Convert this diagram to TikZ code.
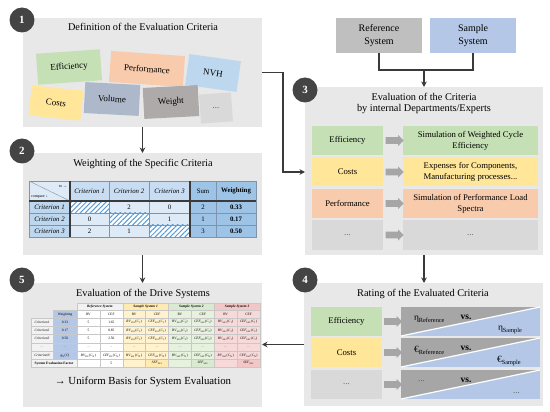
\documentclass[tikz,border=0pt]{standalone}
\usepackage{fontspec}
\setmainfont{Liberation Serif}
\usetikzlibrary{shapes.arrows,patterns,patterns.meta,arrows.meta,calc}
\definecolor{panelgray}{HTML}{E8E8E8}
\definecolor{badgegray}{HTML}{444444}
\definecolor{cgreen}{HTML}{C5E0B4}
\definecolor{csalmon}{HTML}{F8CBAD}
\definecolor{cyellow}{HTML}{FFE699}
\definecolor{cblue}{HTML}{B4C7E7}
\definecolor{cnvh}{HTML}{BDD7EE}
\definecolor{cvol}{HTML}{ADB9CA}
\definecolor{cweight}{HTML}{AEAAAA}
\definecolor{cdots}{HTML}{D9D9D9}
\definecolor{cref}{HTML}{BFBFBF}
\definecolor{linegray}{HTML}{3A3A3A}
\definecolor{arrowgray}{HTML}{A6A6A6}
\definecolor{t2corner}{HTML}{DEEBF7}
\definecolor{t2head}{HTML}{C9DDF2}
\definecolor{t2row}{HTML}{BDD7EE}
\definecolor{t2body}{HTML}{DEEBF7}
\definecolor{t2sum}{HTML}{9DC3E6}
\definecolor{t2grid}{HTML}{7F93AA}
\definecolor{hatch}{HTML}{5B9BD5}
\definecolor{t5grid}{HTML}{C8C8C8}
\definecolor{h0}{HTML}{F2F2F2}
\definecolor{b0}{HTML}{FFFFFF}
\definecolor{h1}{HTML}{FFEAB0}
\definecolor{b1}{HTML}{FFF2CC}
\definecolor{h2}{HTML}{D9EAD0}
\definecolor{b2}{HTML}{E6F1DE}
\definecolor{h3}{HTML}{F4C7C7}
\definecolor{b3}{HTML}{F8D9D9}
\definecolor{wblue}{HTML}{B4C7E7}
\definecolor{labgray}{HTML}{F2F2F2}
\newcommand\myfs[2]{\fontsize{#1}{#2}\selectfont}
\newcommand\sysv[3]{\textit{#1}\textsubscript{#2}(\textit{C}\textsubscript{#3})}
\newcommand\symsub[2]{{\myfs{9.5}{10}#1}\raisebox{-2.2pt}{\myfs{6.3}{7}#2}}
\begin{document}
\begin{tikzpicture}[x=1pt,y=-1pt,
  every node/.style={inner sep=0pt, outer sep=0pt},
  panel/.style={fill=panelgray, anchor=north west},
  badge/.style={circle, fill=badgegray, text=white, font=\myfs{11}{11}\bfseries, minimum size=25},
  ptitle/.style={font=\myfs{10.3}{11.5}, align=center},
  tag/.style={minimum height=31, font=\myfs{9}{10}},
  conn/.style={draw=linegray, line width=1.5pt},
  arr/.style={conn, -{Stealth[length=5.5pt,width=5.5pt]}},
  blockarrow/.style={single arrow, fill=arrowgray, minimum height=18, single arrow head extend=2.3pt, inner sep=3.2pt},
  rowbox/.style={anchor=north west, minimum height=29, align=center, font=\myfs{8.7}{11}},
  sysbox/.style={minimum width=86, minimum height=35, align=center, font=\myfs{10}{13}},
  c2/.style={anchor=north west, draw=t2grid, line width=0.4pt, font=\myfs{6.8}{7}},
  c5/.style={anchor=north west, draw=t5grid, line width=0.3pt, font=\myfs{3.5}{4}},
  dots/.style={text=black!65}
]
\useasboundingbox (0,0) rectangle (550,412);

% ---------------- Panel 1
\node[panel, minimum width=239, minimum height=109] (p1) at (23,18) {};
\node[ptitle] (t1) at (143,27) {Definition of the Evaluation Criteria};
\node[tag, fill=cgreen, minimum width=64, rotate=4] (e1) at (69,67) {Efficiency};
\node[tag, fill=csalmon, minimum width=74, rotate=-4] (f1) at (147,69) {Performance};
\node[tag, fill=cnvh, minimum width=52, rotate=-8] (n1) at (213,73) {NVH};
\node[tag, fill=cyellow, minimum width=52, minimum height=30, rotate=-6] (c1) at (56,103) {Costs};
\node[tag, fill=cvol, minimum width=55, rotate=-3] (v1) at (112,99) {Volume};
\node[tag, fill=cweight, minimum width=55, rotate=3] (w1) at (171,102) {Weight};
\node[tag, fill=cdots, minimum width=32, minimum height=29, rotate=4, dots] (d1) at (216,108) {...};
\node[badge] (b1) at (22,20) {1};

% ---------------- Panel 2
\node[panel, minimum width=239, minimum height=102] (p2) at (23,153) {};
\node[ptitle] (t2) at (143,164) {Weighting of the Specific Criteria};
\node[badge] (b2) at (22,151) {2};
\node[c2, fill=t2corner, minimum width=41, minimum height=20] (h20) at (29,181) {};
\draw[t2grid, line width=0.4pt] (h20.north west) -- (h20.south east);
\node[font=\myfs{4}{4}, anchor=east] (h20to) at (67,186) {to →};
\node[font=\myfs{4}{4}, anchor=west] (h20cp) at (31,197) {compare ↓};
\foreach \k/\x/\w in {1/70/39,2/109/40,3/149/41}
  \node[c2, fill=t2head, minimum width=\w, minimum height=20] (h2\k) at (\x,181) {\itshape Criterion \k};
\node[c2, fill=t2sum, minimum width=26, minimum height=20] (h2s) at (190,181) {Sum};
\node[c2, fill=t2sum, minimum width=40, minimum height=20] (h2w) at (216,181) {\bfseries Weighting};
\foreach \r/\y/\s/\w in {1/201/2/0.33, 2/213/1/0.17, 3/225/3/0.50}{
  \node[c2, fill=t2row, minimum width=41, minimum height=12] (r2\r) at (29,\y) {\itshape Criterion \r};
  \node[c2, fill=t2sum, minimum width=26, minimum height=12] (s2\r) at (190,\y) {\s};
  \node[c2, fill=t2sum, minimum width=40, minimum height=12] (w2\r) at (216,\y) {\bfseries \w};
}
\foreach \r/\k/\x/\w/\v in {1/2/109/40/2, 1/3/149/41/0, 2/1/70/39/0, 2/3/149/41/1, 3/1/70/39/2, 3/2/109/40/1}{
  \pgfmathsetmacro\yy{189+12*\r}
  \node[c2, fill=t2body, minimum width=\w, minimum height=12] (v2\r\k) at (\x,\yy) {\v};
}
\foreach \r/\x/\w in {1/70/39, 2/109/40, 3/149/41}{
  \pgfmathsetmacro\yy{189+12*\r}
  \node[c2, fill=white, minimum width=\w, minimum height=12] (x2\r) at (\x,\yy) {};
  \fill[pattern={Lines[angle=45,distance=3.5pt,line width=1pt]}, pattern color=hatch] (x2\r.north west) rectangle (x2\r.south east);
}
\draw[linegray, line width=1.1pt] (h21.north west) -- (h21.north west |- r23.south);
\draw[linegray, line width=1.1pt] (h2s.north west) -- (h2s.north west |- r23.south);
\draw[linegray, line width=1.1pt] (r21.north west) -- (r21.north west -| w21.north east);

% ---------------- Panel 5
\node[panel, minimum width=239, minimum height=124] (p5) at (23,283) {};
\node[ptitle] (t5) at (143,294) {Evaluation of the Drive Systems};
\node[badge] (b5) at (22,280) {5};
\foreach \s/\nm in {0/Reference System,1/Sample System 1,2/Sample System 2,3/Sample System 3}{
  \node[c5, fill=h\s, minimum width=45.75, minimum height=7.5] (t5h\s) at ({77+45.75*\s},303) {\bfseries\itshape \nm};
  \node[c5, fill=b\s, minimum width=22.875, minimum height=7.5] (t5rv\s) at ({77+45.75*\s},310.5) {RV};
  \node[c5, fill=b\s, minimum width=22.875, minimum height=7.5] (t5cef\s) at ({77+45.75*\s+22.875},310.5) {CEF};
}
\node[c5, fill=wblue, minimum width=24, minimum height=7.5] (t5wh) at (53,310.5) {Weighting};
\foreach \r/\lab/\g/\rv/\cef [count=\i] in {0/Criterion1/0.33/5/1.65, 1/Criterion2/0.17/5/0.85, 2/Criterion3/0.50/5/2.50}{
  \pgfmathsetmacro\yy{318+8.3*\r}
  \node[c5, fill=labgray, minimum width=22, minimum height=8.3] (t5l\i) at (31,\yy) {\itshape \lab};
  \node[c5, fill=wblue, minimum width=24, minimum height=8.3] (t5g\i) at (53,\yy) {\g};
  \node[c5, fill=b0, minimum width=22.875, minimum height=8.3] (t5a\i) at (77,\yy) {\rv};
  \node[c5, fill=b0, minimum width=22.875, minimum height=8.3] (t5b\i) at (99.875,\yy) {\cef};
  \foreach \s in {1,2,3}{
    \node[c5, fill=b\s, minimum width=22.875, minimum height=8.3] (t5x\s-\i) at ({77+45.75*\s},\yy) {\sysv{RV}{SS\s}{\i}};
    \node[c5, fill=b\s, minimum width=22.875, minimum height=8.3] (t5y\s-\i) at ({77+45.75*\s+22.875},\yy) {\sysv{CEF}{SS\s}{\i}};
  }
}
% dots row
\node[c5, fill=labgray, minimum width=22, minimum height=8.3, dots] (t5ld) at (31,342.9) {...};
\node[c5, fill=wblue, minimum width=24, minimum height=8.3, dots] (t5gd) at (53,342.9) {...};
\foreach \s in {0,1,2,3}{
  \node[c5, fill=b\s, minimum width=22.875, minimum height=8.3, dots] (t5xd\s) at ({77+45.75*\s},342.9) {...};
  \node[c5, fill=b\s, minimum width=22.875, minimum height=8.3, dots] (t5yd\s) at ({77+45.75*\s+22.875},342.9) {...};
}
% N row
\node[c5, fill=labgray, minimum width=22, minimum height=8.3] (t5lN) at (31,351.2) {\itshape CriterionN};
\node[c5, fill=wblue, minimum width=24, minimum height=8.3] (t5gN) at (53,351.2) {\textit{g}\textsubscript{N}(\textit{C})};
\node[c5, fill=b0, minimum width=22.875, minimum height=8.3] (t5xN0) at (77,351.2) {\sysv{RV}{RS}{N}};
\node[c5, fill=b0, minimum width=22.875, minimum height=8.3] (t5yN0) at (99.875,351.2) {\sysv{CEF}{RS}{N}};
\foreach \s in {1,2,3}{
  \node[c5, fill=b\s, minimum width=22.875, minimum height=8.3] (t5xN\s) at ({77+45.75*\s},351.2) {\sysv{RV}{SS\s}{N}};
  \node[c5, fill=b\s, minimum width=22.875, minimum height=8.3] (t5yN\s) at ({77+45.75*\s+22.875},351.2) {\sysv{CEF}{SS\s}{N}};
}
% SEF row
\node[c5, fill=labgray, minimum width=46, minimum height=7.5] (t5sef) at (31,359.5) {\bfseries System Evaluation Factor};
\node[c5, fill=b0, minimum width=22.875, minimum height=7.5] (t5e0) at (77,359.5) {};
\node[c5, fill=b0, minimum width=22.875, minimum height=7.5] (t5f0) at (99.875,359.5) {5};
\foreach \s in {1,2,3}{
  \node[c5, fill=b\s, minimum width=22.875, minimum height=7.5] (t5e\s) at ({77+45.75*\s},359.5) {};
  \node[c5, fill=h\s, minimum width=22.875, minimum height=7.5] (t5f\s) at ({77+45.75*\s+22.875},359.5) {\textit{SEF}\textsubscript{SS\s}};
}
\node[font=\myfs{10.8}{12}] (ub) at (143,382) {→ Uniform Basis for System Evaluation};

% ---------------- Reference / Sample
\node[sysbox, fill=cref] (ref) at (379,35.5) {Reference\\System};
\node[sysbox, fill=cblue] (smp) at (473,35.5) {Sample\\System};

% ---------------- Panel 3
\node[panel, minimum width=238, minimum height=168] (p3) at (305,87) {};
\node[ptitle] (t3) at (424,103.5) {Evaluation of the Criteria\\by internal Departments/Experts};
\node[badge] (b3) at (305,90) {3};
\node[rowbox, fill=cgreen, minimum width=71] (l31) at (312,126) {Efficiency};
\node[rowbox, fill=cgreen, minimum width=135] (r31) at (403,126) {Simulation of Weighted Cycle\\Efficiency};
\node[rowbox, fill=cyellow, minimum width=71] (l32) at (312,157.5) {Costs};
\node[rowbox, fill=cyellow, minimum width=135] (r32) at (403,157.5) {Expenses for Components,\\Manufacturing processes...};
\node[rowbox, fill=csalmon, minimum width=71] (l33) at (312,189) {Performance};
\node[rowbox, fill=csalmon, minimum width=135] (r33) at (403,189) {Simulation of Performance Load\\Spectra};
\node[rowbox, fill=cdots, minimum width=71, dots] (l34) at (312,220.5) {...};
\node[rowbox, fill=cdots, minimum width=135, dots] (r34) at (403,220.5) {...};
\foreach \k in {1,2,3,4}
  \node[blockarrow] (a3\k) at ($(l3\k.east)!0.5!(r3\k.west)$) {};

% ---------------- Panel 4
\node[panel, minimum width=239, minimum height=123] (p4) at (304,283) {};
\node[ptitle] (t4) at (423,294) {Rating of the Evaluated Criteria};
\node[badge] (b4) at (305,280) {4};
\node[rowbox, fill=cgreen, minimum width=71] (l41) at (311,307) {Efficiency};
\node[rowbox, fill=cyellow, minimum width=71] (l42) at (311,338) {Costs};
\node[rowbox, fill=cdots, minimum width=71, dots] (l43) at (311,370) {...};
\foreach \k/\y in {1/307,2/338,3/370}{
  \node[rowbox, fill=cblue, minimum width=139] (r4\k) at (401,\y) {};
  \fill[arrowgray] (r4\k.north west) -- (r4\k.north east) -- (r4\k.south west) -- cycle;
  \draw[white, line width=1.2pt] (r4\k.south west) -- (r4\k.north east);
  \node[font=\myfs{9.5}{10}\bfseries] (vs4\k) at (466,\y+10) {vs.};
  \node[blockarrow] (a4\k) at ($(l4\k.east)!0.5!(r4\k.west)$) {};
}
\node[anchor=west] (r41a) at (414,319) {\symsub{η}{Reference}};
\node[anchor=west] (r41b) at (498,330) {\symsub{η}{Sample}};
\node[anchor=west] (r42a) at (414,350) {\symsub{€}{Reference}};
\node[anchor=west] (r42b) at (497,361) {\symsub{€}{Sample}};
\node[anchor=west, dots, font=\myfs{9}{10}] (r43a) at (418,381) {...};
\node[anchor=west, dots, font=\myfs{9}{10}] (r43b) at (513,393) {...};

% ---------------- Connectors
\draw[arr] (p1.south) -- (p2.north);
\draw[arr] (p2.south) -- (p5.north);
\coordinate (j) at (424,70);
\draw[conn] (ref.south) |- (j) -| (smp.south);
\draw[arr] (j) -- (p3.north);
\draw[arr] (p1.east) -- ++(21,0) |- (p3.west |- l32.west);
\draw[arr] (p3.south) -- (p3.south |- p4.north);
\draw[arr] (p4.west) -- (p4.west -| p5.east);
\end{tikzpicture}
\end{document}
